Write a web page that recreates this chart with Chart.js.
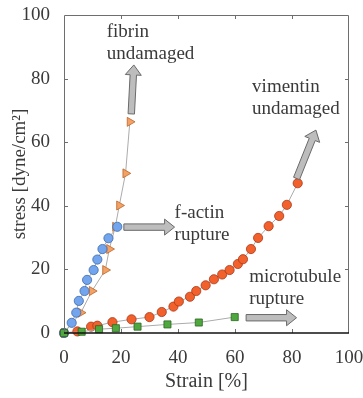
<!DOCTYPE html>
<html>
<head>
<meta charset="utf-8">
<script src="https://cdn.jsdelivr.net/npm/chart.js@4"></script>
<style>
  html, body { margin: 0; padding: 0; background: #fff; }
</style>
</head>
<body>
<canvas id="stress" width="363" height="398"></canvas>
<script>
// strain in %, stress in dyne/cm^2
const fibrinStrain = [0, 5.9, 9.8, 14.5, 15.9, 18.0, 19.4, 21.6, 23.1];
const fibrinStress = [0, 6.4, 13.2, 19.8, 26.4, 33.4, 40.1, 50.2, 66.4];

const actinStrain = [0, 2.7, 4.3, 5.2, 7.2, 8.1, 10.4, 11.7, 13.5, 15.6, 18.7];
const actinStress = [0, 3.2, 6.4, 10.1, 13.2, 16.7, 19.8, 23.1, 26.4, 29.8, 33.4];

const vimentinStrain = [0, 4.7, 9.5, 11.7, 17.0, 23.7, 30.0, 34.3, 38.4, 40.3, 44.2, 46.4,
  49.7, 52.6, 55.5, 58.1, 61.0, 62.8, 65.6, 68.1, 71.8, 75.5, 78.2, 82.0];
const vimentinStress = [0, 0.5, 2.0, 2.3, 3.4, 4.3, 5.0, 6.6, 8.3, 9.9, 11.4, 13.2,
  15.0, 16.9, 18.4, 19.8, 21.7, 23.2, 26.4, 29.9, 33.6, 36.8, 40.3, 47.1];

const tubuleStrain = [0, 6.2, 12.3, 18.2, 25.8, 36.3, 47.3, 59.9];
const tubuleStress = [0, 0.4, 1.2, 1.5, 2.0, 2.7, 3.3, 5.0];

const axisTicks = [0, 20, 40, 60, 80, 100];

// annotation text: [strain, stress] of the first line's baseline start, then the lines
const notes = [
  { at: [15.0, 93.1], lines: ['fibrin', 'undamaged'] },
  { at: [66.0, 75.8], lines: ['vimentin', 'undamaged'] },
  { at: [38.8, 36.2], lines: ['f-actin', 'rupture'] },
  { at: [65.0, 16.0], lines: ['microtubule', 'rupture'] }
];
// block arrows: tail -> tip, in data units
const arrows = [
  { from: [23.6, 68.9], to: [24.5, 84.3] },
  { from: [21.0, 33.3], to: [38.8, 33.3] },
  { from: [81.6, 48.6], to: [88.4, 63.8] },
  { from: [63.9, 4.8], to: [81.6, 4.8] }
];

const SERIF = '"Liberation Serif", "Times New Roman", serif';
const TEXT = '#3a3a3a';

const pts = (xs, ys) => xs.map((x, i) => ({ x: x, y: ys[i] }));

function series(xs, ys, style, fill, edge, order, extra) {
  return Object.assign({
    data: pts(xs, ys),
    showLine: true,
    borderColor: '#ababab',
    borderWidth: 1,
    pointStyle: style,
    pointRadius: 4.6,
    pointBackgroundColor: fill,
    pointBorderColor: edge,
    pointBorderWidth: 0.8,
    clip: false,
    order: order
  }, extra || {});
}

const decorations = {
  id: 'decorations',
  afterDatasetsDraw(chart) {
    const { ctx, chartArea: a, scales: { x, y } } = chart;
    ctx.save();

    // frame with ticks pointing inward
    ctx.strokeStyle = '#6e6e6e';
    ctx.lineWidth = 1;
    ctx.beginPath();
    ctx.moveTo(a.left + 0.5, a.bottom);
    ctx.lineTo(a.left + 0.5, a.top + 0.5);
    ctx.lineTo(a.right - 0.5, a.top + 0.5);
    ctx.lineTo(a.right - 0.5, a.bottom);
    axisTicks.slice(1, -1).forEach(v => {
      const px = Math.round(x.getPixelForValue(v)) + 0.5;
      const py = Math.round(y.getPixelForValue(v)) + 0.5;
      ctx.moveTo(px, a.top); ctx.lineTo(px, a.top + 4);
      ctx.moveTo(px, a.bottom); ctx.lineTo(px, a.bottom - 4);
      ctx.moveTo(a.left, py); ctx.lineTo(a.left + 4, py);
      ctx.moveTo(a.right, py); ctx.lineTo(a.right - 4, py);
    });
    ctx.stroke();
    ctx.strokeStyle = '#111';
    ctx.lineWidth = 1.5;
    ctx.beginPath();
    ctx.moveTo(a.left, a.bottom);
    ctx.lineTo(a.right, a.bottom);
    ctx.stroke();

    // block arrows
    arrows.forEach(ar => {
      const x0 = x.getPixelForValue(ar.from[0]), y0 = y.getPixelForValue(ar.from[1]);
      const x1 = x.getPixelForValue(ar.to[0]), y1 = y.getPixelForValue(ar.to[1]);
      const len = Math.hypot(x1 - x0, y1 - y0);
      const ux = (x1 - x0) / len, uy = (y1 - y0) / len;
      const nx = -uy, ny = ux;
      const sw = 3.2, hw = 8, hl = 10;
      const bx = x1 - ux * hl, by = y1 - uy * hl;
      ctx.beginPath();
      ctx.moveTo(x0 + nx * sw, y0 + ny * sw);
      ctx.lineTo(bx + nx * sw, by + ny * sw);
      ctx.lineTo(bx + nx * hw, by + ny * hw);
      ctx.lineTo(x1, y1);
      ctx.lineTo(bx - nx * hw, by - ny * hw);
      ctx.lineTo(bx - nx * sw, by - ny * sw);
      ctx.lineTo(x0 - nx * sw, y0 - ny * sw);
      ctx.closePath();
      ctx.fillStyle = '#bdbdbd';
      ctx.fill();
      ctx.strokeStyle = '#6a6a6a';
      ctx.lineWidth = 1;
      ctx.stroke();
    });

    // labels
    ctx.fillStyle = TEXT;
    ctx.font = '19px ' + SERIF;
    ctx.textAlign = 'left';
    ctx.textBaseline = 'alphabetic';
    notes.forEach(n => {
      const px = x.getPixelForValue(n.at[0]);
      const py = y.getPixelForValue(n.at[1]);
      n.lines.forEach((t, i) => ctx.fillText(t, px, py + i * 22));
    });
    ctx.restore();
  }
};

new Chart(document.getElementById('stress'), {
  type: 'scatter',
  data: {
    datasets: [
      series(fibrinStrain, fibrinStress, 'triangle', '#f4a163', '#b7652a', 4, { pointRotation: 90, pointRadius: 5.2 }),
      series(actinStrain, actinStress, 'circle', '#72a5ee', '#3f6aa8', 2),
      series(vimentinStrain, vimentinStress, 'circle', '#f2602b', '#a8381a', 3),
      series(tubuleStrain, tubuleStress, 'rect', '#4fa83e', '#2b6522', 1, { pointRadius: 5 })
    ]
  },
  plugins: [decorations],
  options: {
    responsive: false,
    animation: false,
    devicePixelRatio: 1,
    layout: { padding: { top: 15, right: 14, bottom: 0, left: 0 } },
    plugins: {
      legend: { display: false },
      tooltip: { enabled: false }
    },
    scales: {
      x: {
        type: 'linear',
        min: 0,
        max: 100,
        afterBuildTicks: s => { s.ticks = axisTicks.map(v => ({ value: v })); },
        afterFit: s => { s.height = 65; s.paddingLeft = 0; s.paddingRight = 0; },
        grid: { display: false },
        border: { display: false },
        ticks: { color: TEXT, font: { family: SERIF, size: 19 }, padding: 6, maxRotation: 0 },
        title: { display: true, text: 'Strain [%]', color: TEXT, font: { family: SERIF, size: 20 }, padding: { top: 0, bottom: 4 } }
      },
      y: {
        type: 'linear',
        min: 0,
        max: 100,
        afterBuildTicks: s => { s.ticks = axisTicks.map(v => ({ value: v })); },
        afterFit: s => { s.width = 64; s.paddingTop = 0; s.paddingBottom = 0; },
        grid: { display: false },
        border: { display: false },
        ticks: { color: TEXT, font: { family: SERIF, size: 19 }, padding: 6 },
        title: { display: true, text: 'stress [dyne/cm²]', color: TEXT, font: { family: SERIF, size: 19 }, padding: { top: 9, bottom: 0 } }
      }
    }
  }
});
</script>
</body>
</html>
